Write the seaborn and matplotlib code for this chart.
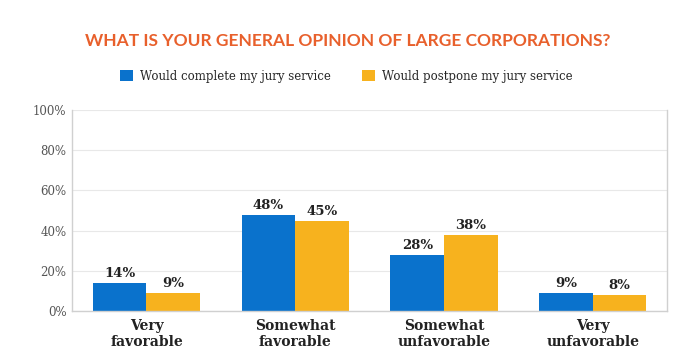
import pandas as pd
import matplotlib.pyplot as plt
import seaborn as sns

categories = ['Very\nfavorable', 'Somewhat\nfavorable', 'Somewhat\nunfavorable', 'Very\nunfavorable']
complete = [14, 48, 28, 9]
postpone = [9, 45, 38, 8]
series_names = ['Would complete my jury service', 'Would postpone my jury service']

df = pd.DataFrame({
    'category': categories * 2,
    'value': complete + postpone,
    'series': [series_names[0]] * 4 + [series_names[1]] * 4,
})

sns.set_style('white')
plt.rcParams['font.family'] = ['DejaVu Serif']

fig = plt.figure(figsize=(7, 3.54), dpi=100)
ax = fig.add_axes([0.103, 0.1215, 0.850, 0.5675])

palette = {series_names[0]: '#0A72CC', series_names[1]: '#F7B21E'}
sns.barplot(data=df, x='category', y='value', hue='series', palette=palette,
            width=0.72, ax=ax, saturation=1, legend=True, linewidth=0)

ax.set_ylim(0, 100)
ax.set_xlim(-0.5, 3.5)
ax.set_yticks(range(0, 101, 20))
ax.set_yticklabels([f'{v}%' for v in range(0, 101, 20)], fontsize=8.5, color='#555555')
ax.yaxis.grid(True, color='#e8e8e8', linewidth=0.8)
ax.set_axisbelow(True)
ax.tick_params(axis='x', length=0, pad=6)
ax.tick_params(axis='y', length=0, pad=4)
for lbl in ax.get_xticklabels():
    lbl.set_fontweight('bold')
    lbl.set_fontsize(10)
    lbl.set_color('#222222')
    lbl.set_linespacing(1.15)
ax.set_xlabel('')
ax.set_ylabel('')

ax.spines['top'].set_visible(False)
for side in ['left', 'bottom', 'right']:
    ax.spines[side].set_color('#d0d0d0')
    ax.spines[side].set_linewidth(1)

for cont in ax.containers:
    ax.bar_label(cont, labels=[f'{int(v)}%' for v in cont.datavalues],
                 fontsize=9.5, fontweight='bold', color='#222222', padding=2)

leg = ax.legend(loc='center', ncol=2, frameon=False, fontsize=8.5,
                handlelength=1.1, handleheight=1.1,
                columnspacing=2.6, handletextpad=0.6)
leg.set_bbox_to_anchor((0.495, 0.785), transform=fig.transFigure)

fig.text(0.497, 0.885, 'WHAT IS YOUR GENERAL OPINION OF LARGE CORPORATIONS?',
         ha='center', va='center', fontsize=12.5, fontweight='bold', color='#E8602C',
         family=['Lato', 'DejaVu Sans'])

fig.savefig('out.png', dpi=100)
